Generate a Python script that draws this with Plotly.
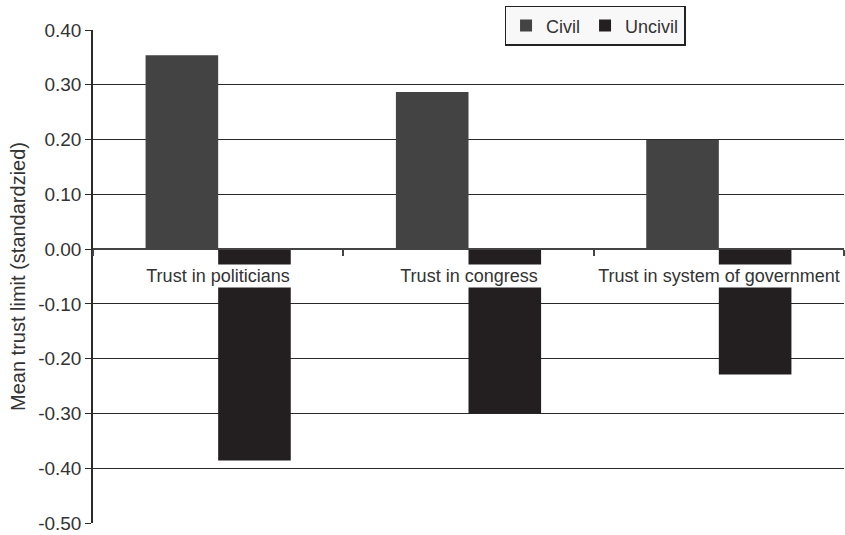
import plotly.graph_objects as go

categories = ["Trust in politicians", "Trust in congress", "Trust in system of government"]
civil = [0.354, 0.287, 0.199]
uncivil = [-0.386, -0.300, -0.229]
y_ticks = [0.4, 0.3, 0.2, 0.1, 0.0, -0.1, -0.2, -0.3, -0.4, -0.5]
y_tick_labels = ["0.40", "0.30", "0.20", "0.10", "0.00", "-0.10", "-0.20", "-0.30", "-0.40", "-0.50"]

FONT = "Liberation Sans, Arial, sans-serif"
TXT = "#333333"

fig = go.Figure()
fig.add_trace(go.Bar(x=categories, y=civil, name="Civil", marker=dict(color="#434343", line=dict(width=0))))
fig.add_trace(go.Bar(x=categories, y=uncivil, name="Uncivil", marker=dict(color="#231f20", line=dict(width=0))))

for c in categories:
    fig.add_annotation(x=c, y=0, xref="x", yref="y", text=c, showarrow=False,
                       yanchor="top", yshift=-15, bgcolor="white", borderpad=1,
                       width=246, align="center",
                       font=dict(family=FONT, size=18, color=TXT))

fig.update_layout(
    width=845, height=535,
    margin=dict(l=93, r=1, t=30, b=12, autoexpand=False),
    paper_bgcolor="white", plot_bgcolor="white",
    barmode="group", bargap=0.42, bargroupgap=0.0,
    font=dict(family=FONT, size=18, color=TXT),
    legend=dict(orientation="h", x=0.548, y=1.049, xanchor="left", yanchor="top",
                bgcolor="#f8f8f8", bordercolor="#222222", borderwidth=1.5,
                font=dict(family=FONT, size=18, color=TXT),
                itemwidth=30, tracegroupgap=0),
    xaxis=dict(anchor="free", position=0.5 / 0.9, showline=True, linecolor="#444444", linewidth=2,
               ticks="outside", tickson="boundaries", ticklen=6, tickcolor="#444444", tickwidth=1.5,
               showticklabels=False, showgrid=False, zeroline=False, automargin=False),
    yaxis=dict(range=[-0.5, 0.4], tickvals=y_ticks, ticktext=y_tick_labels,
               showgrid=True, gridcolor="#2a2a2a", gridwidth=1,
               zeroline=True, zerolinecolor="#444444", zerolinewidth=2,
               showline=True, linecolor="#2a2a2a", linewidth=1.5,
               ticks="outside", ticklen=6, tickcolor="#2a2a2a", automargin=False,
               tickfont=dict(family=FONT, size=19, color=TXT),
               title=dict(text="Mean trust limit (standardzied)", font=dict(family=FONT, size=20, color=TXT), standoff=7)),
)

fig.write_html("out.html", config={"displayModeBar": False},
               post_script="document.body.style.margin='0';document.body.style.overflow='hidden';")
